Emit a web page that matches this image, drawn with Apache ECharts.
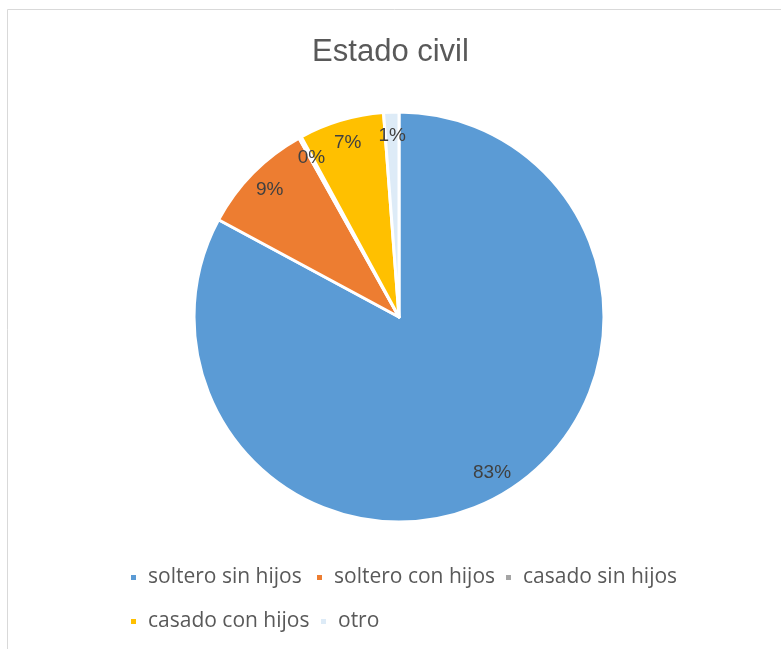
<!DOCTYPE html>
<html lang="es">
<head>
<meta charset="UTF-8">
<script src="https://cdn.jsdelivr.net/npm/echarts@6/dist/echarts.min.js"></script>
<style>
  html, body { margin: 0; padding: 0; background: #fff; }
  #main { width: 781px; height: 649px; }
</style>
</head>
<body>
<div id="main"></div>
<script>
// datos (porcentajes aproximados)
var categorias = ['soltero sin hijos', 'soltero con hijos', 'casado sin hijos', 'casado con hijos', 'otro'];
var valores = [82.7, 9.0, 0.2, 6.7, 1.2];
var colores = ['#5B9BD5', '#ED7D31', '#A5A5A5', '#FFC000', '#DDEBF7'];

// posiciones de cada elemento de la leyenda (fila / columna)
var leyendaX = [129, 315, 504, 129, 319];
var leyendaY = [564, 564, 564, 608, 608];

var chart = echarts.init(document.getElementById('main'));

var datos = [];
var etiquetas = [];
for (var i = 0; i < categorias.length; i++) {
    datos.push({ name: categorias[i], value: valores[i], itemStyle: { color: colores[i] } });
    etiquetas.push({ name: categorias[i], value: valores[i] });
}

var leyendas = [];
for (var j = 0; j < categorias.length; j++) {
    leyendas.push({
        data: [categorias[j]],
        left: leyendaX[j],
        top: leyendaY[j],
        padding: 0,
        icon: 'rect',
        itemWidth: 7,
        itemHeight: 7,
        selectedMode: false,
        textStyle: {
            fontFamily: 'Open Sans',
            fontSize: 21,
            color: '#595959',
            lineHeight: 24,
            padding: [3, 0, 0, 6]
        }
    });
}

var option = {
    animation: false,
    title: {
        text: 'Estado civil',
        left: 'center',
        top: 32,
        textStyle: {
            fontFamily: 'Liberation Sans',
            fontSize: 31,
            fontWeight: 'normal',
            color: '#595959'
        }
    },
    graphic: [{
        type: 'rect',
        shape: { x: 7.5, y: 9.5, width: 900, height: 900 },
        style: { fill: 'none', stroke: '#D9D9D9', lineWidth: 1 },
        silent: true
    }],
    legend: leyendas,
    series: [{
        name: 'Estado civil',
        type: 'pie',
        center: [399, 317],
        radius: [0, 205],
        startAngle: 90,
        clockwise: true,
        label: { show: false },
        labelLine: { show: false },
        itemStyle: { borderColor: '#fff', borderWidth: 3 },
        emphasis: { disabled: true },
        data: datos
    }, {
        // capa transparente sólo para colocar las etiquetas cerca del borde
        name: 'etiquetas',
        type: 'pie',
        center: [399, 317],
        radius: [150, 207],
        startAngle: 90,
        clockwise: true,
        silent: true,
        percentPrecision: 0,
        itemStyle: { color: 'rgba(0,0,0,0)', borderWidth: 0 },
        emphasis: { disabled: true },
        labelLine: { show: false },
        label: {
            show: true,
            position: 'inside',
            formatter: '{d}%',
            fontFamily: 'Liberation Sans',
            fontSize: 19,
            color: '#404040'
        },
        data: etiquetas
    }]
};

chart.setOption(option);
</script>
</body>
</html>
